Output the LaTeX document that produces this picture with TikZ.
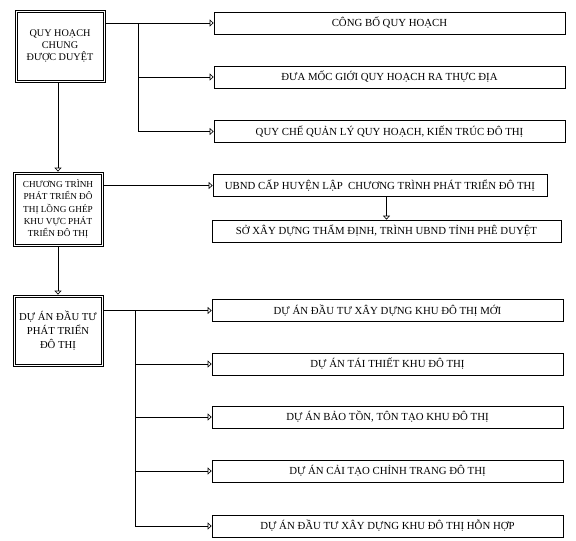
\documentclass[tikz,border=0pt]{standalone}
\usepackage{fontspec}
\setmainfont{Liberation Serif}
\usetikzlibrary{arrows.meta}

\begin{document}
\begin{tikzpicture}[x=1pt,y=-1pt,>={Triangle[open,length=4pt,width=7pt]},
  mainbox/.style={draw,line width=0.7pt,align=center,inner sep=2pt,minimum width=90pt,
    append after command={\pgfextra{\draw[line width=0.6pt]
      ([shift={(2.2pt,-2.2pt)}]\tikzlastnode.north west) rectangle
      ([shift={(-2.2pt,2.2pt)}]\tikzlastnode.south east);}}},
  itembox/.style={draw,line width=0.7pt,minimum height=22pt,inner sep=0pt,font=\fontsize{10.8}{12}\selectfont},
  link/.style={->,line width=0.6pt}]
\useasboundingbox (0,0) rectangle (576,541);
% left column
\node[mainbox,minimum height=72pt,font=\fontsize{10.2}{12}\selectfont] (qhc) at (60,46) {QUY HOẠCH\\CHUNG\\ĐƯỢC DUYỆT};
\node[mainbox,minimum height=74pt,font=\fontsize{9.2}{12.3}\selectfont] (ctr) at (58,209) {CHƯƠNG TRÌNH\\PHÁT TRIỂN ĐÔ\\THỊ LỒNG GHÉP\\KHU VỰC PHÁT\\TRIỂN ĐÔ THỊ};
\node[mainbox,minimum height=71pt,font=\fontsize{10.7}{14}\selectfont] (dau) at (58,330.5) {DỰ ÁN ĐẦU TƯ\\PHÁT TRIỂN\\ĐÔ THỊ};
% right column
\node[itembox,minimum width=351pt] (cbo) at (389.5,23) {CÔNG BỐ QUY HOẠCH};
\node[itembox,minimum width=351pt] (moc) at (389.5,77) {ĐƯA MỐC GIỚI QUY HOẠCH RA THỰC  ĐỊA};
\node[itembox,minimum width=351pt] (qch) at (389.5,131.5) {QUY CHẾ QUẢN LÝ QUY HOẠCH, KIẾN TRÚC ĐÔ THỊ};
\node[itembox,minimum width=334pt] (ubnd) at (380,185.5) {UBND CẤP HUYỆN LẬP\ \ CHƯƠNG TRÌNH PHÁT TRIỂN ĐÔ THỊ};
\node[itembox,minimum width=349pt] (sxd) at (386.5,231) {SỞ XÂY DỰNG THẨM ĐỊNH, TRÌNH UBND TỈNH PHÊ DUYỆT};
\node[itembox,minimum width=351pt] (dmoi) at (387.5,310.5) {DỰ ÁN ĐẦU TƯ XÂY DỰNG KHU ĐÔ THỊ MỚI};
\node[itembox,minimum width=351pt] (dtai) at (387.5,364) {DỰ ÁN TÁI THIẾT KHU ĐÔ THỊ};
\node[itembox,minimum width=351pt] (dbao) at (387.5,417) {DỰ ÁN BẢO TỒN, TÔN TẠO KHU ĐÔ THỊ};
\node[itembox,minimum width=351pt] (dcai) at (387.5,471) {DỰ ÁN CẢI TẠO CHỈNH TRANG ĐÔ THỊ};
\node[itembox,minimum width=351pt] (dhon) at (387.5,526) {DỰ ÁN ĐẦU TƯ XÂY DỰNG KHU ĐÔ THỊ HỖN HỢP};
% vertical flow
\draw[link] (qhc.south -| ctr) -- (ctr.north);
\draw[link] (ctr.south) -- (dau.north);
\draw[link] (ubnd.south -| sxd) -- (sxd.north);
% branches of the first box
\coordinate (trA) at (138,23);
\draw[link] (qhc.east |- cbo) -- (cbo.west);
\draw[line width=0.6pt] (trA) -- (trA |- qch);
\draw[link] (trA |- moc) -- (moc.west);
\draw[link] (trA |- qch) -- (qch.west);
\draw[link] (ctr.east |- ubnd) -- (ubnd.west);
% branches of the third box
\coordinate (trB) at (135,310.5);
\draw[link] (dau.east |- dmoi) -- (dmoi.west);
\draw[line width=0.6pt] (trB) -- (trB |- dhon);
\draw[link] (trB |- dtai) -- (dtai.west);
\draw[link] (trB |- dbao) -- (dbao.west);
\draw[link] (trB |- dcai) -- (dcai.west);
\draw[link] (trB |- dhon) -- (dhon.west);
\end{tikzpicture}
\end{document}
